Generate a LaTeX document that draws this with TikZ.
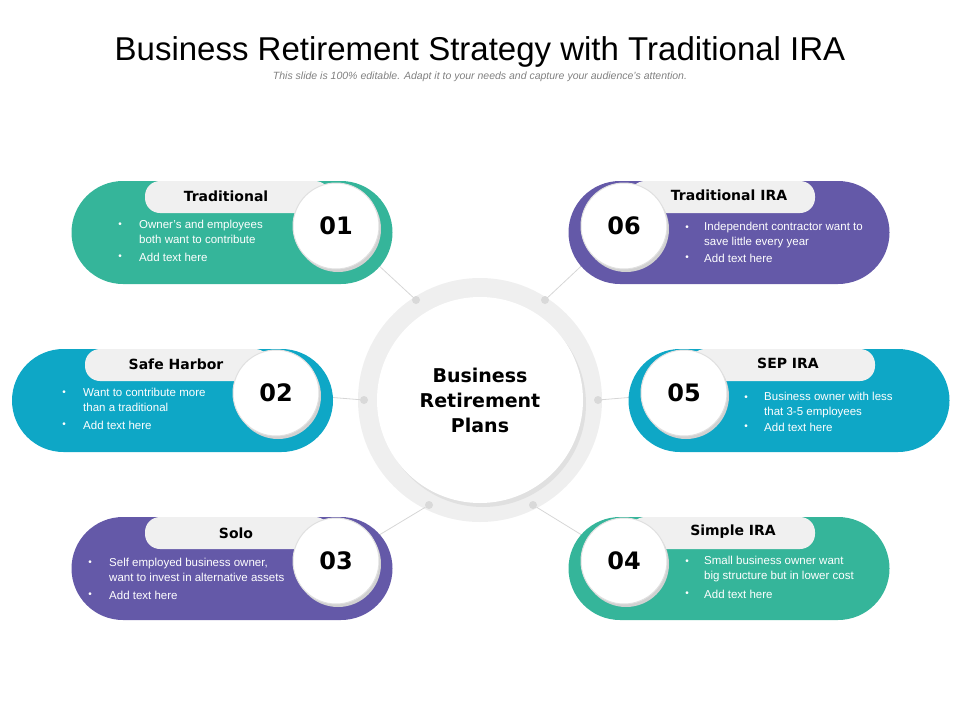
\documentclass[tikz,border=0pt]{standalone}
\usepackage{fontspec}
\setmainfont{Liberation Sans}
\newfontfamily\bfam{DejaVu Sans}
\definecolor{cteal}{HTML}{35B59A}
\definecolor{ccyan}{HTML}{0EA7C6}
\definecolor{cpurp}{HTML}{6459A8}
\definecolor{ctab}{HTML}{F0F0F0}
\definecolor{cring}{HTML}{EFEFEF}
\definecolor{cline}{HTML}{D6D6D6}
\tikzset{
 pill/.style={rounded corners=51.5pt, minimum width=321pt, minimum height=103pt, inner sep=0},
 tabbox/.style={fill=ctab, rounded corners=15pt, minimum width=185pt, minimum height=32pt, inner sep=0},
 tablabel/.style={font=\bfam\bfseries\fontsize{14}{16}\selectfont, text=black},
 numc/.style={circle, fill=white, draw=black!12, line width=1pt, minimum size=86pt, inner sep=0, font=\bfam\bfseries\fontsize{24}{26}\selectfont},
 shad/.style={circle, fill=black!18, minimum size=86pt, inner sep=0},
 btxt/.style={anchor=west, align=left, text=white, inner sep=0, font=\fontsize{11.5}{14.5}\selectfont},
 bul/.style={text=white, inner sep=0, font=\fontsize{10}{12}\selectfont},
 dotn/.style={circle, fill=black!15, minimum size=8pt, inner sep=0},
 conn/.style={cline, line width=0.8pt}
}
\begin{document}
\begin{tikzpicture}[x=1pt,y=-1pt]
\useasboundingbox (0,0) rectangle (960,720);
\node[font=\fontsize{33}{38}\selectfont] (title) at (480,52) {Business Retirement Strategy with Traditional IRA};
\node[font=\itshape\fontsize{10.5}{12}\selectfont, text=black!50] (sub) at (480,77) {This slide is 100\% editable. Adapt it to your needs and capture your audience's attention.};
\coordinate (k1) at (336,226);
\coordinate (k2) at (276,393);
\coordinate (k3) at (336,561);
\coordinate (k6) at (624,226);
\coordinate (k5) at (684,393);
\coordinate (k4) at (624,561);
% center
\node[circle, fill=cring, minimum size=244pt, inner sep=0] (ring) at (480,400) {};
\node[dotn] (d1) at (416,300) {};
\node[dotn] (d6) at (545,300) {};
\node[dotn] (d2) at (364,400) {};
\node[dotn] (d5) at (598,400) {};
\node[dotn] (d3) at (429,505) {};
\node[dotn] (d4) at (533,505) {};
\draw[conn] (k1) -- (d1);
\draw[conn] (k6) -- (d6);
\draw[conn] (k2) -- (d2);
\draw[conn] (k5) -- (d5);
\draw[conn] (k3) -- (d3);
\draw[conn] (k4) -- (d4);
\node[circle, fill=black!12, minimum size=206pt, inner sep=0] at (483,404) {};
\node[circle, fill=white, minimum size=206pt, inner sep=0, align=center, font=\bfam\bfseries\fontsize{19}{25}\selectfont] (c) at (480,400) {Business\\Retirement\\Plans};
% pills
\node[pill, fill=cteal] (p1) at (232,232.5) {};
\node[pill, fill=ccyan] (p2) at (172.5,400.5) {};
\node[pill, fill=cpurp] (p3) at (232,568.5) {};
\node[pill, fill=cpurp] (p6) at (729,232.5) {};
\node[pill, fill=ccyan] (p5) at (789,400.5) {};
\node[pill, fill=cteal] (p4) at (729,568.5) {};
% tabs
\node[tabbox] (t1) at (237.5,197) {};
\node[tabbox] (t2) at (177.5,365) {};
\node[tabbox] (t3) at (237.5,533) {};
\node[tabbox] (t6) at (722.5,197) {};
\node[tabbox] (t5) at (782.5,365) {};
\node[tabbox] (t4) at (722.5,533) {};
\node[tablabel] at (226,196) {Traditional};
\node[tablabel] at (176,364) {Safe Harbor};
\node[tablabel] at (236,533) {Solo};
\node[tablabel] at (729,195) {Traditional IRA};
\node[tablabel] at (788,363) {SEP IRA};
\node[tablabel] at (733,532) {Simple IRA};
% number circles
\node[shad] at (338,229) {};
\node[shad] at (278,396) {};
\node[shad] at (338,564) {};
\node[shad] at (626,229) {};
\node[shad] at (686,396) {};
\node[shad] at (626,564) {};
\node[numc] (n1) at (k1) {01};
\node[numc] (n2) at (k2) {02};
\node[numc] (n3) at (k3) {03};
\node[numc] (n6) at (k6) {06};
\node[numc] (n5) at (k5) {05};
\node[numc] (n4) at (k4) {04};
% bullets
\node[bul] at (120,225) {•}; \node[btxt] at (139,232) {Owner's and employees\\both want to contribute};
\node[bul] at (120,257) {•}; \node[btxt] at (139,257) {Add text here};
\node[bul] at (64,393) {•}; \node[btxt] at (83,400) {Want to contribute more\\than a traditional};
\node[bul] at (64,425) {•}; \node[btxt] at (83,425) {Add text here};
\node[bul] at (90,563) {•}; \node[btxt] at (109,570) {Self employed business owner,\\want to invest in alternative assets};
\node[bul] at (90,595) {•}; \node[btxt] at (109,595) {Add text here};
\node[bul] at (687,228) {•}; \node[btxt] at (704,235) {Independent contractor want to\\save little every year};
\node[bul] at (687,258) {•}; \node[btxt] at (704,258) {Add text here};
\node[bul] at (746,398) {•}; \node[btxt] at (764,405) {Business owner with less\\that 3-5 employees};
\node[bul] at (746,427) {•}; \node[btxt] at (764,427) {Add text here};
\node[bul] at (687,562) {•}; \node[btxt] at (704,569) {Small business owner want\\big structure but in lower cost};
\node[bul] at (687,594) {•}; \node[btxt] at (704,594) {Add text here};
\end{tikzpicture}
\end{document}
